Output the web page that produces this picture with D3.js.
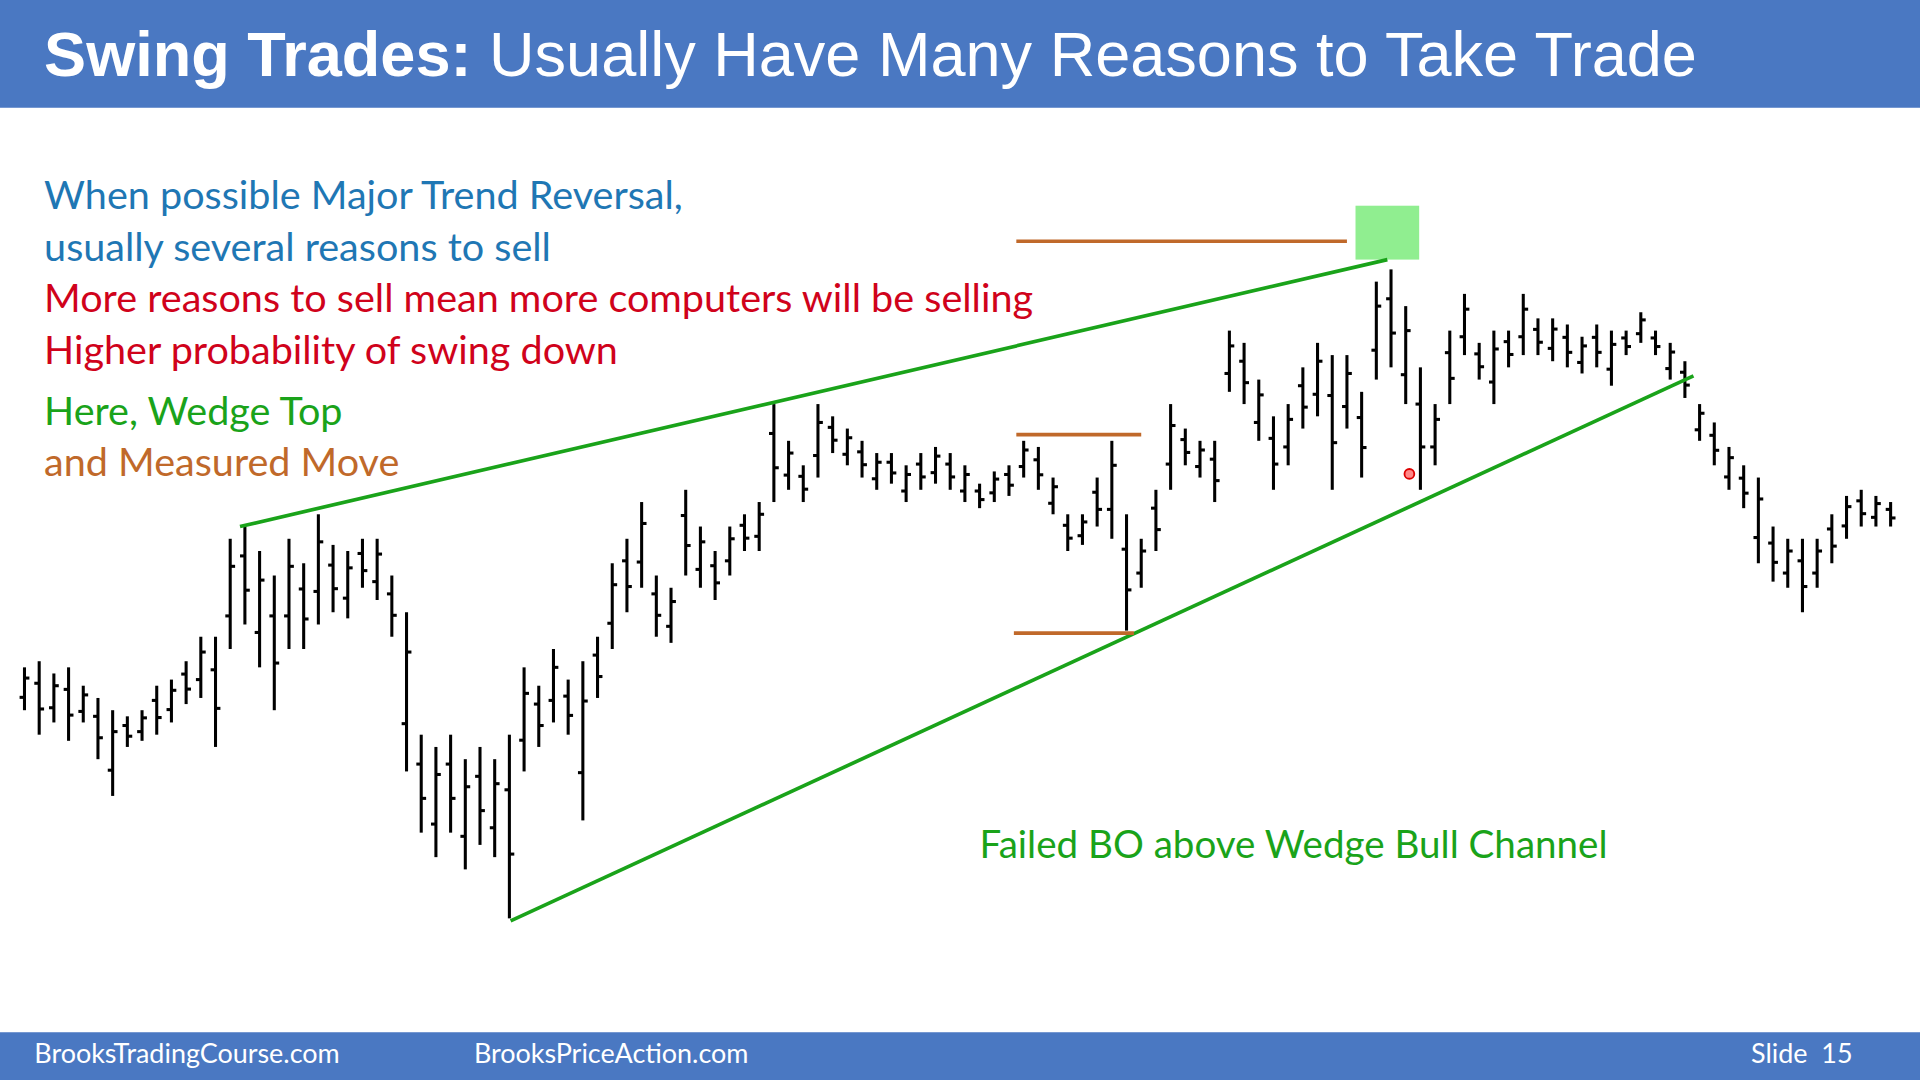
<!DOCTYPE html>
<html><head><meta charset="utf-8">
<script src="https://cdn.jsdelivr.net/npm/d3@7/dist/d3.min.js"></script>
<style>body{margin:0;background:#fff}svg{display:block}</style></head>
<body><svg id="c" width="1920" height="1080"></svg>
<script>
const barX = d3.range(20, 1550, 12);
const highs = [255,260,250,255,240,230,220,215,220,240,245,260,280,280,360,370,350,330,360,340,380,355,350,360,360,330,300,200,190,200,180,190,180,200,255,240,270,245,260,280,340,360,390,330,320,400,370,350,370,380,390,470,440,420,470,460,450,440,430,430,420,430,435,430,420,405,415,420,440,435,410,380,380,410,440,380,360,400,470,450,440,440,530,520,490,460,470,500,520,510,510,480,570,580,550,500,470,530,560,520,530,530,560,540,540,535,525,535,530,530,545,530,520,505,470,455,435,420,410,370,360,360,360,380,395,400,395,390];
const lows  = [220,200,210,195,210,180,150,190,195,200,210,225,230,190,270,290,255,220,270,270,290,300,295,320,310,280,170,120,100,120,90,110,100,50,170,190,210,200,130,230,270,300,320,280,275,330,320,310,330,350,350,390,400,390,410,430,420,410,400,405,390,400,405,400,390,385,390,395,410,400,380,350,355,370,360,285,320,350,400,420,410,390,480,470,440,400,420,450,460,400,450,410,490,500,470,400,420,470,510,490,470,500,510,510,505,500,495,500,485,510,520,510,490,475,440,420,400,385,340,325,320,300,320,340,360,370,370,370];
const opens = highs.map((h,i)=> i%2 ? h - (h-lows[i])*0.3 : lows[i] + (h-lows[i])*0.3);
const closes = highs.map((h,i)=> i%2 ? lows[i] + (h-lows[i])*0.35 : h - (h-lows[i])*0.25);
const titleBold = "Swing Trades:";
const titleRest = " Usually Have Many Reasons to Take Trade";
const notes = [
 {t:"When possible Major Trend Reversal,", y:171, c:"#1f77b4"},
 {t:"usually several reasons to sell", y:213, c:"#1f77b4"},
 {t:"More reasons to sell mean more computers will be selling", y:255, c:"#d0021b"},
 {t:"Higher probability of swing down", y:297, c:"#d0021b"},
 {t:"Here, Wedge Top", y:347, c:"#1aa31a"},
 {t:"and Measured Move", y:389, c:"#c0692a"}
];
const k = 1920/1568;
const svg = d3.select("#c");
const g = svg.append("g").attr("transform",`scale(${k})`);
const y = d3.scaleLinear().domain([0,800]).range([800,0]);
const x = d3.scaleLinear().domain([0,1568]).range([0,1568]);
g.append("rect").attr("x",0).attr("y",0).attr("width",1568).attr("height",88).attr("fill","#4a78c2");
g.append("rect").attr("x",0).attr("y",843).attr("width",1568).attr("height",39).attr("fill","#4a78c2");
const tt = g.append("text").attr("x",36).attr("y",62).attr("fill","#fff").attr("font-family","Liberation Sans, Arial").attr("font-size",51.5);
tt.append("tspan").attr("font-weight","bold").text(titleBold);
tt.append("tspan").text(titleRest);
[["BrooksTradingCourse.com",28],["BrooksPriceAction.com",387],["Slide  15",1430]].forEach(([t,xx])=>{
  g.append("text").attr("x",xx).attr("y",868).attr("font-family","Lato, Open Sans").attr("font-size",22).attr("fill","#fff").attr("xml:space","preserve").text(t);});
notes.forEach(n=>g.append("text").attr("x",36).attr("y",n.y).attr("fill",n.c).attr("font-family","Lato, Open Sans").attr("font-size",32.3).text(n.t));
g.append("text").attr("x",800).attr("y",701).attr("fill","#1aa31a").attr("font-family","Lato, Open Sans").attr("font-size",31.5).text("Failed BO above Wedge Bull Channel");
g.append("rect").attr("x",1107).attr("y",168).attr("width",52).attr("height",44).attr("fill","#90ee90");
const bars = g.append("g").attr("stroke","#000").attr("stroke-width",2.5);
highs.forEach((h,i)=>{
  const bx = x(barX[i]);
  bars.append("line").attr("x1",bx).attr("x2",bx).attr("y1",y(h)).attr("y2",y(lows[i]));
  bars.append("line").attr("x1",bx-4).attr("x2",bx).attr("y1",y(opens[i])).attr("y2",y(opens[i]));
  bars.append("line").attr("x1",bx).attr("x2",bx+4).attr("y1",y(closes[i])).attr("y2",y(closes[i]));
});
const gl = [[196,370,1133,588],[417,48,1383,493]];
gl.forEach(l=>g.append("line").attr("x1",x(l[0])).attr("y1",y(l[1])).attr("x2",x(l[2])).attr("y2",y(l[3])).attr("stroke","#1aa31a").attr("stroke-width",3));
const bl = [[830,1100,603],[830,932,445],[828,926,283]];
bl.forEach(l=>g.append("line").attr("x1",x(l[0])).attr("x2",x(l[1])).attr("y1",y(l[2])).attr("y2",y(l[2])).attr("stroke","#c0692a").attr("stroke-width",3));
g.append("circle").attr("cx",1151).attr("cy",387).attr("r",4).attr("fill","#f88").attr("stroke","#d00").attr("stroke-width",1.5);
</script></body></html>
